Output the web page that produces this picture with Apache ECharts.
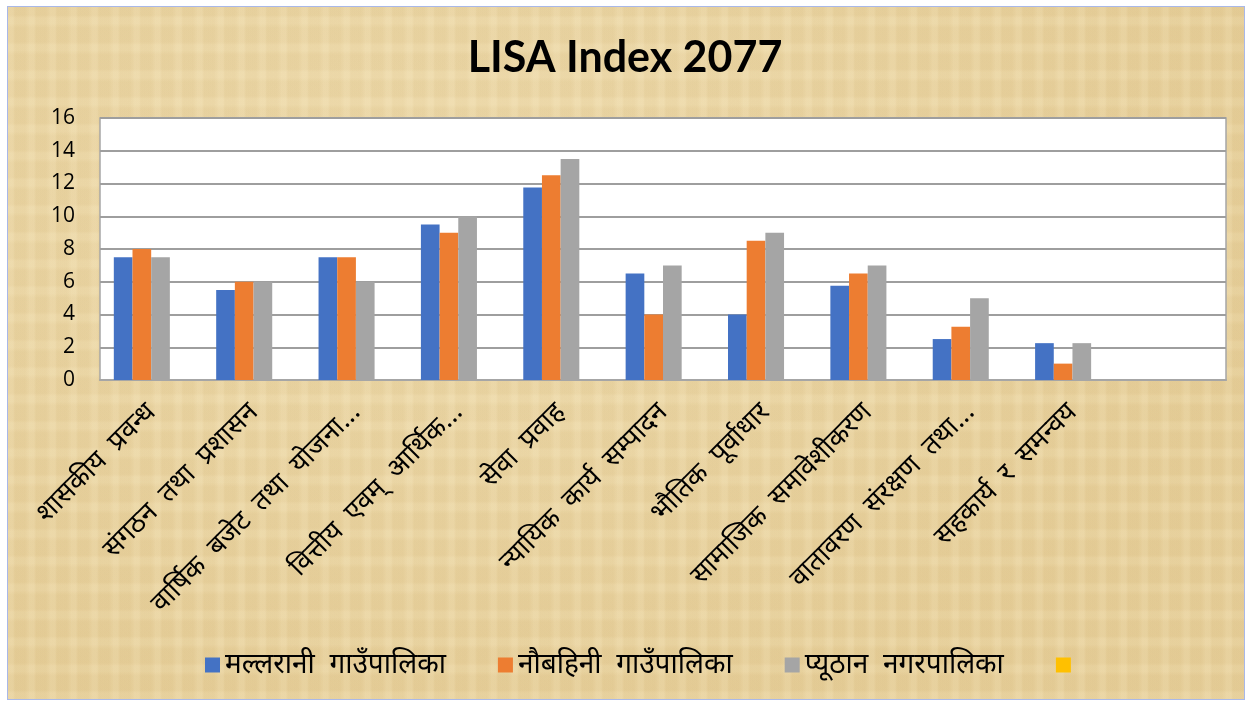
<!DOCTYPE html>
<html>
<head>
<meta charset="utf-8">
<script src="https://cdn.jsdelivr.net/npm/echarts@6/dist/echarts.min.js"></script>
<style>
  html, body { margin: 0; padding: 0; background: #ffffff; }
  #frame {
    position: absolute; left: 7px; top: 6px; width: 1236px; height: 692px;
    border: 1px solid #A9B8E8;
    background-color: #E9D3A0;
    background-image:
      repeating-linear-gradient(90deg, rgba(255,245,215,0.12) 0px, rgba(255,245,215,0.12) 5px, rgba(200,170,110,0.05) 7px, rgba(200,170,110,0.05) 17px, rgba(255,245,215,0.09) 21px),
      repeating-linear-gradient(0deg, rgba(255,245,215,0.10) 0px, rgba(255,245,215,0.10) 6px, rgba(190,160,100,0.05) 9px, rgba(190,160,100,0.05) 23px, rgba(255,245,215,0.08) 27px),
      radial-gradient(ellipse at 35% 30%, rgba(242,225,182,0.5), rgba(224,196,136,0.3) 75%);
  }
  #chart { position: absolute; left: 0; top: 0; width: 1250px; height: 702px; }
</style>
</head>
<body>
<div id="frame"></div>
<div id="chart"></div>
<script>
const categories = [
  'शासकीय  प्रवन्ध',
  'संगठन  तथा  प्रशासन',
  'वार्षिक  बजेट  तथा  योजना...',
  'वित्तीय  एवम्  आर्थिक...',
  'सेवा  प्रवाह',
  'न्यायिक  कार्य  सम्पादन',
  'भौतिक  पूर्वाधार',
  'सामाजिक  समावेशीकरण',
  'वातावरण  संरक्षण  तथा...',
  'सहकार्य  र  समन्वय',
  ''
];
const seriesNames = ['मल्लरानी  गाउँपालिका', 'नौबहिनी  गाउँपालिका', 'प्यूठान  नगरपालिका', ' '];
const mallarani = [7.5, 5.5, 7.5, 9.5, 11.75, 6.5, 4, 5.75, 2.5, 2.25, null];
const naubahini = [8, 6, 7.5, 9, 12.5, 4, 8.5, 6.5, 3.25, 1, null];
const pyuthan   = [7.5, 6, 6, 10, 13.5, 7, 9, 7, 5, 2.25, null];
const blank     = [null, null, null, null, null, null, null, null, null, null, null];
const yTicks = { min: 0, max: 16, interval: 2 };
const titleText = 'LISA Index 2077';

const colors = ['#4472C4', '#ED7D31', '#A5A5A5', '#FFC000'];
const devFont = "'Noto Sans', 'Noto Sans Devanagari', 'Lohit Devanagari', 'FreeSans', 'DejaVu Sans', sans-serif";
const seriesData = [mallarani, naubahini, pyuthan, blank];

const chart = echarts.init(document.getElementById('chart'), null, { renderer: 'canvas' });
chart.setOption({
  backgroundColor: 'transparent',
  color: colors,
  animation: false,
  title: {
    text: titleText,
    left: 'center',
    top: 32,
    textStyle: { fontFamily: 'Lato, "Open Sans", sans-serif', fontSize: 43, fontWeight: 'bold', color: '#000000' }
  },
  legend: {
    bottom: 18,
    left: 200,
    itemWidth: 15,
    itemHeight: 15,
    itemGap: 52,
    icon: 'rect',
    data: seriesNames,
    textStyle: { fontFamily: devFont, fontSize: 28, color: '#000000' }
  },
  grid: {
    left: 100, right: 24, top: 118, bottom: 322,
    show: true, backgroundColor: '#ffffff', borderColor: '#A6A6A6', borderWidth: 1.5
  },
  xAxis: {
    type: 'category',
    data: categories,
    axisTick: { show: false },
    axisLine: { show: true, lineStyle: { color: '#A6A6A6', width: 2 } },
    axisLabel: {
      rotate: 45, interval: 0, margin: 28,
      fontFamily: devFont, fontSize: 27, color: '#000000'
    }
  },
  yAxis: {
    type: 'value',
    min: yTicks.min, max: yTicks.max, interval: yTicks.interval,
    axisLine: { show: false },
    axisTick: { show: false },
    splitLine: { lineStyle: { color: '#9E9E9E', width: 2 } },
    axisLabel: { margin: 25, fontFamily: "'Open Sans', 'Noto Sans', sans-serif", fontSize: 21, color: '#000000' }
  },
  series: seriesData.map((d, i) => ({
    name: seriesNames[i],
    type: 'bar',
    data: d,
    barGap: '0%',
    barCategoryGap: '27%',
    itemStyle: { color: colors[i] }
  }))
});
</script>
</body>
</html>
